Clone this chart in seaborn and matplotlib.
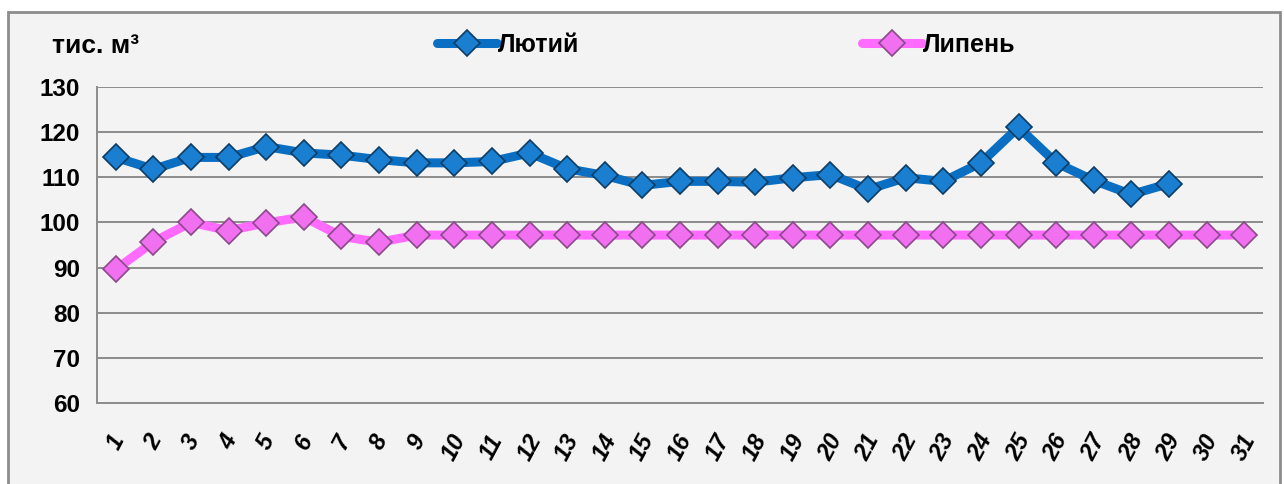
import matplotlib.pyplot as plt
import matplotlib.patches as mpatches
import pandas as pd
import seaborn as sns

# Data (тис. м3 per day)
days = list(range(1, 32))
feb = [114.4, 111.8, 114.4, 114.4, 116.8, 115.4, 114.9, 113.9, 113.2, 113.2,
       113.5, 115.4, 111.9, 110.4, 108.2, 109.1, 109.1, 108.9, 109.9, 110.6,
       107.3, 109.9, 109.1, 113.2, 121.1, 113.2, 109.3, 106.2, 108.6]
jul = [89.6, 95.7, 100.0, 98.2, 99.9, 101.2, 96.9, 95.6, 97.2, 97.2,
       97.2, 97.2, 97.2, 97.2, 97.2, 97.2, 97.2, 97.2, 97.2, 97.2,
       97.2, 97.2, 97.2, 97.2, 97.2, 97.2, 97.2, 97.2, 97.2, 97.2, 97.2]
y_ticks = [60, 70, 80, 90, 100, 110, 120, 130]

df_feb = pd.DataFrame({"day": days[:len(feb)], "value": feb})
df_jul = pd.DataFrame({"day": days, "value": jul})

sns.set_style("white")
plt.rcParams['font.family'] = ['Liberation Sans', 'DejaVu Sans']
plt.rcParams['text.color'] = 'black'
plt.rcParams['xtick.labelcolor'] = 'black'
plt.rcParams['ytick.labelcolor'] = 'black'

fig = plt.figure(figsize=(12.84, 4.84), dpi=100)
fig.patch.set_facecolor("white")
# grey frame of the chart area
fig.patches.append(mpatches.Rectangle((8 / 1284, -0.05), 1272 / 1284, 1 - 12 / 484 + 0.05,
                                      transform=fig.transFigure, facecolor="#f3f3f3",
                                      edgecolor="#8c8c8c", linewidth=2, zorder=-5))

ax = fig.add_axes([97 / 1284, 1 - 403 / 484, (1263 - 97) / 1284, (403 - 87) / 484])
ax.set_facecolor("none")

sns.lineplot(data=df_feb, x="day", y="value", ax=ax, color="#0a6fc2", linewidth=6.5,
             marker="D", markersize=13.5, markerfacecolor="#1a7fd0",
             markeredgecolor="#0c3d66", markeredgewidth=1.2, label="Лютий", zorder=4)
sns.lineplot(data=df_jul, x="day", y="value", ax=ax, color="#ff6bff", linewidth=6.5,
             marker="D", markersize=13.5, markerfacecolor="#f070f0",
             markeredgecolor="#8a4a8a", markeredgewidth=1.2, label="Липень", zorder=3)

ax.set_xlim(0.5, 31.5)
ax.set_ylim(60, 130)
ax.set_yticks(y_ticks)
ax.set_yticklabels([str(v) for v in y_ticks], fontsize=17.5, fontweight="bold")
ax.set_xticks(days)
ax.set_xticklabels([str(d) for d in days], fontsize=17, fontweight="bold",
                   style="italic", rotation=62, ha="center", va="top")
ax.set_xticks([d - 0.5 for d in days] + [31.5], minor=True)
ax.tick_params(axis="x", which="major", length=0, pad=20)
ax.tick_params(axis="x", which="minor", length=6, color="#8c8c8c", width=1.3)
ax.tick_params(axis="y", length=6, color="#8c8c8c", width=1.3, pad=6)
ax.grid(axis="y", color="#8c8c8c", linewidth=1.4)
ax.set_axisbelow(True)
for side in ["top", "right"]:
    ax.spines[side].set_visible(False)
for side in ["left", "bottom"]:
    ax.spines[side].set_color("#8c8c8c")
    ax.spines[side].set_linewidth(1.4)
ax.set_xlabel("")
ax.set_ylabel("")

leg = ax.legend(loc="center left", bbox_to_anchor=((437 - 97) / 1166, 1 + 42 / 316), ncol=2,
                frameon=False, prop={"size": 18, "weight": "bold"}, handlelength=2.4,
                handletextpad=0.05, columnspacing=11.3, borderaxespad=0, borderpad=0)

fig.text(52 / 1284, 1 - 46 / 484, "тис. м³", fontsize=19, fontweight="bold",
         va="center", ha="left")

plt.savefig("out.png", dpi=100)
